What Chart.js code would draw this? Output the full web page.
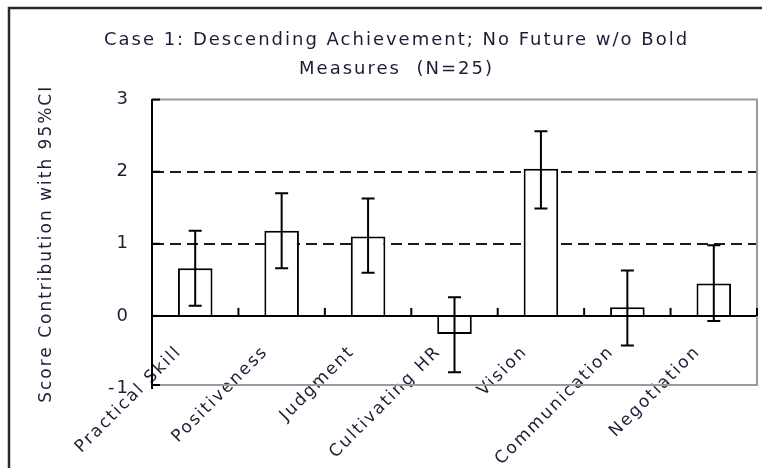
<!DOCTYPE html>
<html>
<head>
<meta charset="utf-8">
<style>
  html, body { margin: 0; padding: 0; background: #fff; }
  #wrap { width: 762px; height: 468px; position: relative; }
</style>
<script src="https://cdn.jsdelivr.net/npm/chart.js@4/dist/chart.umd.min.js"></script>
</head>
<body>
<div id="wrap"><canvas id="chart" width="762" height="468"></canvas></div>
<script>
// Score contribution per competency, with 95% confidence interval bounds
const categories = ['Practical Skill', 'Positiveness', 'Judgment', 'Cultivating HR', 'Vision', 'Communication', 'Negotiation'];
const scores  = [0.66, 1.18, 1.10, -0.25, 2.04, 0.12, 0.45];
const ciLower = [0.14, 0.66, 0.60, -0.78, 1.49, -0.41, -0.07];
const ciUpper = [1.18, 1.70, 1.63, 0.26, 2.56, 0.63, 0.98];
const yTicks  = [-1, 0, 1, 2, 3];
const dashedLevels = [1, 2];

const TEXT = '#1a1f36';
const FONT = 'DejaVu Sans';
const SPACING = '2px';

// Wide lettering for every label drawn on the canvas
const letterSpacing = {
  id: 'letterSpacing',
  beforeLayout(chart) { chart.ctx.letterSpacing = SPACING; },
  beforeDraw(chart) { chart.ctx.letterSpacing = SPACING; }
};

// Outer frame of the figure and the grey plot box
const frames = {
  id: 'frames',
  beforeDraw(chart) {
    const ctx = chart.ctx;
    ctx.save();
    ctx.strokeStyle = '#2b2b2b';
    ctx.lineWidth = 2.5;
    ctx.beginPath();
    ctx.moveTo(9, chart.height);
    ctx.lineTo(9, 8);
    ctx.lineTo(chart.width, 8);
    ctx.stroke();
    ctx.restore();
  },
  beforeDatasetsDraw(chart) {
    const {ctx, chartArea: a, scales: {y}} = chart;
    ctx.save();
    ctx.strokeStyle = '#9a9a9a';
    ctx.lineWidth = 2;
    ctx.beginPath();
    ctx.moveTo(a.left, a.top);
    ctx.lineTo(a.right, a.top);
    ctx.lineTo(a.right, a.bottom - 3);
    ctx.lineTo(a.left, a.bottom - 3);
    ctx.stroke();
    // short inward ticks on the value axis
    ctx.strokeStyle = '#000';
    yTicks.forEach(v => {
      const py = Math.min(y.getPixelForValue(v), a.bottom - 3);
      ctx.beginPath();
      ctx.moveTo(a.left, py);
      ctx.lineTo(a.left + 8, py);
      ctx.stroke();
    });
    ctx.restore();
  }
};

// 95% CI whiskers on each bar, plus upward ticks between categories on the zero line
const errorBars = {
  id: 'errorBars',
  afterDatasetsDraw(chart) {
    const {ctx, scales: {x, y}} = chart;
    const meta = chart.getDatasetMeta(0);
    ctx.save();
    ctx.strokeStyle = '#000';
    ctx.lineWidth = 2;
    meta.data.forEach((bar, i) => {
      const px = bar.x;
      const top = y.getPixelForValue(ciUpper[i]);
      const bottom = y.getPixelForValue(ciLower[i]);
      const half = 6.5;
      ctx.beginPath();
      ctx.moveTo(px, top);
      ctx.lineTo(px, bottom);
      ctx.moveTo(px - half, top);
      ctx.lineTo(px + half, top);
      ctx.moveTo(px - half, bottom);
      ctx.lineTo(px + half, bottom);
      ctx.stroke();
    });
    const y0 = y.getPixelForValue(0);
    const step = x.getPixelForTick(1) - x.getPixelForTick(0);
    for (let i = 0; i < categories.length; i++) {
      const px = x.getPixelForTick(i) + step / 2;
      ctx.beginPath();
      ctx.moveTo(px, y0);
      ctx.lineTo(px, y0 - 8);
      ctx.stroke();
    }
    ctx.restore();
  }
};

new Chart(document.getElementById('chart'), {
  type: 'bar',
  data: {
    labels: categories,
    datasets: [{
      data: scores,
      backgroundColor: '#ffffff',
      borderColor: '#000000',
      borderWidth: 2,
      borderSkipped: 'start',
      barPercentage: 0.4,
      categoryPercentage: 1
    }]
  },
  options: {
    responsive: false,
    animation: false,
    events: [],
    layout: { padding: { left: 36, right: 5, top: 0, bottom: 80 } },
    plugins: {
      legend: { display: false },
      tooltip: { enabled: false },
      title: {
        display: true,
        text: ['Case 1: Descending Achievement; No Future w/o Bold', 'Measures  (N=25)'],
        color: TEXT,
        font: { family: FONT, size: 18, weight: 'normal', lineHeight: 1.6 },
        padding: { top: 26, bottom: 16 }
      }
    },
    scales: {
      x: {
        position: { y: 0 },
        offset: true,
        z: 1,
        grid: { display: false },
        border: { display: true, color: '#000', width: 2 },
        ticks: {
          autoSkip: false,
          minRotation: 45,
          maxRotation: 45,
          padding: 18,
          labelOffset: -16,
          color: TEXT,
          font: { family: FONT, size: 17 }
        }
      },
      y: {
        min: -1,
        max: 3,
        afterFit(scale) { scale.width = 116; },
        afterBuildTicks(scale) { scale.ticks = yTicks.map(v => ({ value: v })); },
        grid: {
          drawTicks: false,
          lineWidth: 2,
          color: c => (c.tick && dashedLevels.includes(c.tick.value)) ? '#1a1a1a' : 'rgba(0,0,0,0)'
        },
        border: { display: true, color: '#000', width: 2, dash: [11, 6] },
        ticks: {
          padding: 22,
          crossAlign: 'near',
          color: TEXT,
          font: { family: FONT, size: 18 }
        },
        title: {
          display: true,
          text: 'Score Contribution with 95%CI',
          color: TEXT,
          font: { family: FONT, size: 17 },
          padding: 0
        }
      }
    }
  },
  plugins: [letterSpacing, frames, errorBars]
});
</script>
</body>
</html>
